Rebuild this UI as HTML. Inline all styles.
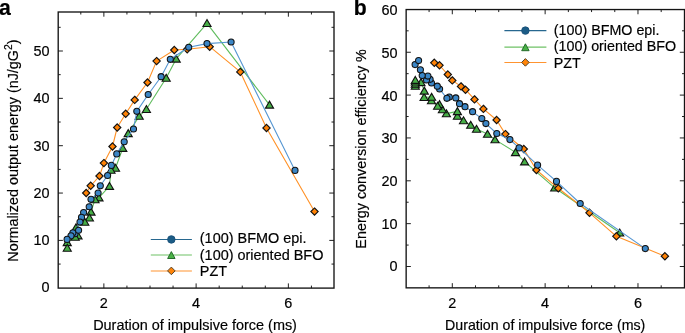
<!DOCTYPE html>
<html lang="en"><head><meta charset="utf-8"><title>Figure</title>
<style>html,body{margin:0;padding:0;background:#fff;}body{width:685px;height:333px;overflow:hidden;}svg{display:block;font-family:"Liberation Sans", sans-serif;fill:#000000;}text{stroke:#000;stroke-width:0.18px;paint-order:stroke fill;}</style></head><body>
<svg width="685" height="333" viewBox="0 0 685 333" role="img" aria-label="Two line charts comparing BFMO, BFO and PZT">
<rect width="685" height="333" fill="#ffffff"/>
<g id="panel-a">
<path d="M67.25 248.00 L67.25 242.40 L75.20 237.00 L78.00 235.70 L76.00 227.60 L84.80 222.00 L89.40 217.80 L91.00 211.90 L95.00 199.50 L99.00 197.70 L109.50 186.20 L111.00 170.00 L115.50 168.00 L122.80 148.20 L128.20 133.40 L139.20 116.10 L146.40 109.30 L166.20 78.00 L176.20 58.90 L207.00 23.30 L269.50 104.90" fill="none" stroke="#60bc5e" stroke-width="1.1" stroke-linejoin="round"/>
<path d="M269.50 101.15 L273.55 108.10 L265.45 108.10 Z" fill="#46ae46" stroke="#111111" stroke-width="1.1" stroke-linejoin="miter"/>
<path d="M207.00 19.55 L211.05 26.50 L202.95 26.50 Z" fill="#46ae46" stroke="#111111" stroke-width="1.1" stroke-linejoin="miter"/>
<path d="M176.20 55.15 L180.25 62.10 L172.15 62.10 Z" fill="#46ae46" stroke="#111111" stroke-width="1.1" stroke-linejoin="miter"/>
<path d="M166.20 74.25 L170.25 81.20 L162.15 81.20 Z" fill="#46ae46" stroke="#111111" stroke-width="1.1" stroke-linejoin="miter"/>
<path d="M146.40 105.55 L150.45 112.50 L142.35 112.50 Z" fill="#46ae46" stroke="#111111" stroke-width="1.1" stroke-linejoin="miter"/>
<path d="M139.20 112.35 L143.25 119.30 L135.15 119.30 Z" fill="#46ae46" stroke="#111111" stroke-width="1.1" stroke-linejoin="miter"/>
<path d="M128.20 129.65 L132.25 136.60 L124.15 136.60 Z" fill="#46ae46" stroke="#111111" stroke-width="1.1" stroke-linejoin="miter"/>
<path d="M122.80 144.45 L126.85 151.40 L118.75 151.40 Z" fill="#46ae46" stroke="#111111" stroke-width="1.1" stroke-linejoin="miter"/>
<path d="M115.50 164.25 L119.55 171.20 L111.45 171.20 Z" fill="#46ae46" stroke="#111111" stroke-width="1.1" stroke-linejoin="miter"/>
<path d="M111.00 166.25 L115.05 173.20 L106.95 173.20 Z" fill="#46ae46" stroke="#111111" stroke-width="1.1" stroke-linejoin="miter"/>
<path d="M109.50 182.45 L113.55 189.40 L105.45 189.40 Z" fill="#46ae46" stroke="#111111" stroke-width="1.1" stroke-linejoin="miter"/>
<path d="M99.00 193.95 L103.05 200.90 L94.95 200.90 Z" fill="#46ae46" stroke="#111111" stroke-width="1.1" stroke-linejoin="miter"/>
<path d="M95.00 195.75 L99.05 202.70 L90.95 202.70 Z" fill="#46ae46" stroke="#111111" stroke-width="1.1" stroke-linejoin="miter"/>
<path d="M91.00 208.15 L95.05 215.10 L86.95 215.10 Z" fill="#46ae46" stroke="#111111" stroke-width="1.1" stroke-linejoin="miter"/>
<path d="M89.40 214.05 L93.45 221.00 L85.35 221.00 Z" fill="#46ae46" stroke="#111111" stroke-width="1.1" stroke-linejoin="miter"/>
<path d="M84.80 218.25 L88.85 225.20 L80.75 225.20 Z" fill="#46ae46" stroke="#111111" stroke-width="1.1" stroke-linejoin="miter"/>
<path d="M76.00 223.85 L80.05 230.80 L71.95 230.80 Z" fill="#46ae46" stroke="#111111" stroke-width="1.1" stroke-linejoin="miter"/>
<path d="M78.00 231.95 L82.05 238.90 L73.95 238.90 Z" fill="#46ae46" stroke="#111111" stroke-width="1.1" stroke-linejoin="miter"/>
<path d="M75.20 233.25 L79.25 240.20 L71.15 240.20 Z" fill="#46ae46" stroke="#111111" stroke-width="1.1" stroke-linejoin="miter"/>
<path d="M67.25 238.65 L71.30 245.60 L63.20 245.60 Z" fill="#46ae46" stroke="#111111" stroke-width="1.1" stroke-linejoin="miter"/>
<path d="M67.25 244.25 L71.30 251.20 L63.20 251.20 Z" fill="#46ae46" stroke="#111111" stroke-width="1.1" stroke-linejoin="miter"/>
<path d="M86.20 193.00 L90.70 185.80 L99.50 176.00 L103.90 163.10 L112.50 146.50 L117.20 127.50 L125.70 113.80 L134.70 99.90 L147.50 82.50 L156.60 61.10 L174.30 50.00 L187.20 49.30 L209.70 46.70 L240.30 71.90 L266.50 128.00 L314.50 211.60" fill="none" stroke="#ff9126" stroke-width="1.1" stroke-linejoin="round"/>
<path d="M314.50 207.95 L318.15 211.60 L314.50 215.25 L310.85 211.60 Z" fill="#ff8205" stroke="#111111" stroke-width="1.15" stroke-linejoin="miter"/>
<path d="M266.50 124.35 L270.15 128.00 L266.50 131.65 L262.85 128.00 Z" fill="#ff8205" stroke="#111111" stroke-width="1.15" stroke-linejoin="miter"/>
<path d="M240.30 68.25 L243.95 71.90 L240.30 75.55 L236.65 71.90 Z" fill="#ff8205" stroke="#111111" stroke-width="1.15" stroke-linejoin="miter"/>
<path d="M209.70 43.05 L213.35 46.70 L209.70 50.35 L206.05 46.70 Z" fill="#ff8205" stroke="#111111" stroke-width="1.15" stroke-linejoin="miter"/>
<path d="M187.20 45.65 L190.85 49.30 L187.20 52.95 L183.55 49.30 Z" fill="#ff8205" stroke="#111111" stroke-width="1.15" stroke-linejoin="miter"/>
<path d="M174.30 46.35 L177.95 50.00 L174.30 53.65 L170.65 50.00 Z" fill="#ff8205" stroke="#111111" stroke-width="1.15" stroke-linejoin="miter"/>
<path d="M156.60 57.45 L160.25 61.10 L156.60 64.75 L152.95 61.10 Z" fill="#ff8205" stroke="#111111" stroke-width="1.15" stroke-linejoin="miter"/>
<path d="M147.50 78.85 L151.15 82.50 L147.50 86.15 L143.85 82.50 Z" fill="#ff8205" stroke="#111111" stroke-width="1.15" stroke-linejoin="miter"/>
<path d="M134.70 96.25 L138.35 99.90 L134.70 103.55 L131.05 99.90 Z" fill="#ff8205" stroke="#111111" stroke-width="1.15" stroke-linejoin="miter"/>
<path d="M125.70 110.15 L129.35 113.80 L125.70 117.45 L122.05 113.80 Z" fill="#ff8205" stroke="#111111" stroke-width="1.15" stroke-linejoin="miter"/>
<path d="M117.20 123.85 L120.85 127.50 L117.20 131.15 L113.55 127.50 Z" fill="#ff8205" stroke="#111111" stroke-width="1.15" stroke-linejoin="miter"/>
<path d="M112.50 142.85 L116.15 146.50 L112.50 150.15 L108.85 146.50 Z" fill="#ff8205" stroke="#111111" stroke-width="1.15" stroke-linejoin="miter"/>
<path d="M103.90 159.45 L107.55 163.10 L103.90 166.75 L100.25 163.10 Z" fill="#ff8205" stroke="#111111" stroke-width="1.15" stroke-linejoin="miter"/>
<path d="M99.50 172.35 L103.15 176.00 L99.50 179.65 L95.85 176.00 Z" fill="#ff8205" stroke="#111111" stroke-width="1.15" stroke-linejoin="miter"/>
<path d="M90.70 182.15 L94.35 185.80 L90.70 189.45 L87.05 185.80 Z" fill="#ff8205" stroke="#111111" stroke-width="1.15" stroke-linejoin="miter"/>
<path d="M86.20 189.35 L89.85 193.00 L86.20 196.65 L82.55 193.00 Z" fill="#ff8205" stroke="#111111" stroke-width="1.15" stroke-linejoin="miter"/>
<path d="M67.10 239.40 L71.00 235.85 L78.60 230.20 L72.90 232.80 L75.00 233.70 L80.00 222.00 L81.50 217.40 L83.60 212.50 L89.20 206.70 L91.00 199.30 L98.10 193.00 L100.30 185.80 L107.60 175.50 L111.35 165.40 L116.75 153.90 L124.20 141.75 L133.50 129.00 L136.80 111.35 L148.20 94.50 L161.10 76.70 L170.30 59.30 L188.70 47.20 L207.00 43.60 L231.10 42.00 L295.00 170.40" fill="none" stroke="#5596d2" stroke-width="1.1" stroke-linejoin="round"/>
<circle cx="295.00" cy="170.40" r="3.05" fill="#3b86c6" stroke="#111111" stroke-width="1.05"/>
<circle cx="231.10" cy="42.00" r="3.05" fill="#3b86c6" stroke="#111111" stroke-width="1.05"/>
<circle cx="207.00" cy="43.60" r="3.05" fill="#3b86c6" stroke="#111111" stroke-width="1.05"/>
<circle cx="188.70" cy="47.20" r="3.05" fill="#3b86c6" stroke="#111111" stroke-width="1.05"/>
<circle cx="170.30" cy="59.30" r="3.05" fill="#3b86c6" stroke="#111111" stroke-width="1.05"/>
<circle cx="161.10" cy="76.70" r="3.05" fill="#3b86c6" stroke="#111111" stroke-width="1.05"/>
<circle cx="148.20" cy="94.50" r="3.05" fill="#3b86c6" stroke="#111111" stroke-width="1.05"/>
<circle cx="136.80" cy="111.35" r="3.05" fill="#3b86c6" stroke="#111111" stroke-width="1.05"/>
<circle cx="133.50" cy="129.00" r="3.05" fill="#3b86c6" stroke="#111111" stroke-width="1.05"/>
<circle cx="124.20" cy="141.75" r="3.05" fill="#3b86c6" stroke="#111111" stroke-width="1.05"/>
<circle cx="116.75" cy="153.90" r="3.05" fill="#3b86c6" stroke="#111111" stroke-width="1.05"/>
<circle cx="111.35" cy="165.40" r="3.05" fill="#3b86c6" stroke="#111111" stroke-width="1.05"/>
<circle cx="107.60" cy="175.50" r="3.05" fill="#3b86c6" stroke="#111111" stroke-width="1.05"/>
<circle cx="100.30" cy="185.80" r="3.05" fill="#3b86c6" stroke="#111111" stroke-width="1.05"/>
<circle cx="98.10" cy="193.00" r="3.05" fill="#3b86c6" stroke="#111111" stroke-width="1.05"/>
<circle cx="91.00" cy="199.30" r="3.05" fill="#3b86c6" stroke="#111111" stroke-width="1.05"/>
<circle cx="89.20" cy="206.70" r="3.05" fill="#3b86c6" stroke="#111111" stroke-width="1.05"/>
<circle cx="83.60" cy="212.50" r="3.05" fill="#3b86c6" stroke="#111111" stroke-width="1.05"/>
<circle cx="81.50" cy="217.40" r="3.05" fill="#3b86c6" stroke="#111111" stroke-width="1.05"/>
<circle cx="80.00" cy="222.00" r="3.05" fill="#3b86c6" stroke="#111111" stroke-width="1.05"/>
<circle cx="75.00" cy="233.70" r="3.05" fill="#3b86c6" stroke="#111111" stroke-width="1.05"/>
<circle cx="72.90" cy="232.80" r="3.05" fill="#3b86c6" stroke="#111111" stroke-width="1.05"/>
<circle cx="78.60" cy="230.20" r="3.05" fill="#3b86c6" stroke="#111111" stroke-width="1.05"/>
<circle cx="71.00" cy="235.85" r="3.05" fill="#3b86c6" stroke="#111111" stroke-width="1.05"/>
<circle cx="67.10" cy="239.40" r="3.05" fill="#3b86c6" stroke="#111111" stroke-width="1.05"/>
<path d="M103.87 288.1 v-4.7 M103.87 12.0 v4.7 M196.12 288.1 v-4.7 M196.12 12.0 v4.7 M288.37 288.1 v-4.7 M288.37 12.0 v4.7 M80.81 288.1 v-2.5 M80.81 12.0 v2.5 M126.93 288.1 v-2.5 M126.93 12.0 v2.5 M150.00 288.1 v-2.5 M150.00 12.0 v2.5 M173.06 288.1 v-2.5 M173.06 12.0 v2.5 M219.18 288.1 v-2.5 M219.18 12.0 v2.5 M242.25 288.1 v-2.5 M242.25 12.0 v2.5 M265.31 288.1 v-2.5 M265.31 12.0 v2.5 M311.43 288.1 v-2.5 M311.43 12.0 v2.5 M58.2 240.40 h4.7 M334.0 240.40 h-4.7 M58.2 193.05 h4.7 M334.0 193.05 h-4.7 M58.2 145.70 h4.7 M334.0 145.70 h-4.7 M58.2 98.35 h4.7 M334.0 98.35 h-4.7 M58.2 51.00 h4.7 M334.0 51.00 h-4.7 M58.2 264.07 h2.5 M334.0 264.07 h-2.5 M58.2 216.72 h2.5 M334.0 216.72 h-2.5 M58.2 169.38 h2.5 M334.0 169.38 h-2.5 M58.2 122.02 h2.5 M334.0 122.02 h-2.5 M58.2 74.67 h2.5 M334.0 74.67 h-2.5 M58.2 27.32 h2.5 M334.0 27.32 h-2.5" fill="none" stroke="#141414" stroke-width="0.95"/>
<rect x="58.2" y="12.0" width="275.8" height="276.1" fill="none" stroke="#141414" stroke-width="1.35"/>
<text x="49.60" y="291.75" font-size="14.45" font-weight="normal" text-anchor="end" >0</text>
<text x="49.60" y="245.40" font-size="14.45" font-weight="normal" text-anchor="end" >10</text>
<text x="49.60" y="198.05" font-size="14.45" font-weight="normal" text-anchor="end" >20</text>
<text x="49.60" y="150.70" font-size="14.45" font-weight="normal" text-anchor="end" >30</text>
<text x="49.60" y="103.35" font-size="14.45" font-weight="normal" text-anchor="end" >40</text>
<text x="49.60" y="56.00" font-size="14.45" font-weight="normal" text-anchor="end" >50</text>
<text x="103.87" y="307.70" font-size="14.45" font-weight="normal" text-anchor="middle" >2</text>
<text x="196.12" y="307.70" font-size="14.45" font-weight="normal" text-anchor="middle" >4</text>
<text x="288.37" y="307.70" font-size="14.45" font-weight="normal" text-anchor="middle" >6</text>
<text x="195.05" y="329.60" font-size="14.45" font-weight="normal" text-anchor="middle" >Duration of impulsive force (ms)</text>
<text transform="translate(18.4 150.55) rotate(-90)" font-size="14.38" text-anchor="middle">Normalized output energy (nJ/gG<tspan font-size="10.4" dy="-6.3">2</tspan><tspan dy="6.3">)</tspan></text>
<path d="M150.8 239.45 H191.9" stroke="#27678f" stroke-width="1.05" fill="none"/>
<circle cx="171.35" cy="239.45" r="3.75" fill="#1b5c86" stroke="#1a5078" stroke-width="0.9"/>
<path d="M150.8 254.9 H191.9" stroke="#6fc266" stroke-width="1.05" fill="none"/>
<path d="M171.35 251.60 L175.05 258.50 L167.65 258.50 Z" fill="#49b346" stroke="#256b2b" stroke-width="1.0" stroke-linejoin="miter"/>
<path d="M150.8 270.9 H191.9" stroke="#ff9430" stroke-width="1.05" fill="none"/>
<path d="M171.35 267.10 L175.15 270.90 L171.35 274.70 L167.55 270.90 Z" fill="#ff8408" stroke="#54452f" stroke-width="1.0" stroke-linejoin="miter"/>
<text x="199.80" y="243.30" font-size="14.45" font-weight="normal" text-anchor="start" >(100) BFMO epi.</text>
<text x="199.80" y="259.80" font-size="14.45" font-weight="normal" text-anchor="start" >(100) oriented BFO</text>
<text x="199.80" y="275.70" font-size="14.45" font-weight="normal" text-anchor="start" >PZT</text>
<text x="-1.10" y="15.00" font-size="21.2" font-weight="bold" text-anchor="start" >a</text>
</g>
<g id="panel-b">
<path d="M415.30 80.20 L415.30 81.80 L415.30 83.90 L415.30 86.00 L421.00 82.40 L424.30 90.90 L424.10 97.30 L431.60 97.10 L431.50 100.50 L437.60 106.00 L439.50 104.40 L442.40 109.50 L446.40 113.60 L457.40 111.40 L457.40 116.10 L463.50 120.50 L470.70 125.10 L476.50 129.00 L487.50 134.10 L495.00 139.60 L515.50 152.40 L524.60 161.70 L554.70 187.80 L619.70 232.80" fill="none" stroke="#60bc5e" stroke-width="1.1" stroke-linejoin="round"/>
<path d="M619.70 229.05 L623.75 236.00 L615.65 236.00 Z" fill="#46ae46" stroke="#111111" stroke-width="1.1" stroke-linejoin="miter"/>
<path d="M554.70 184.05 L558.75 191.00 L550.65 191.00 Z" fill="#46ae46" stroke="#111111" stroke-width="1.1" stroke-linejoin="miter"/>
<path d="M524.60 157.95 L528.65 164.90 L520.55 164.90 Z" fill="#46ae46" stroke="#111111" stroke-width="1.1" stroke-linejoin="miter"/>
<path d="M515.50 148.65 L519.55 155.60 L511.45 155.60 Z" fill="#46ae46" stroke="#111111" stroke-width="1.1" stroke-linejoin="miter"/>
<path d="M495.00 135.85 L499.05 142.80 L490.95 142.80 Z" fill="#46ae46" stroke="#111111" stroke-width="1.1" stroke-linejoin="miter"/>
<path d="M487.50 130.35 L491.55 137.30 L483.45 137.30 Z" fill="#46ae46" stroke="#111111" stroke-width="1.1" stroke-linejoin="miter"/>
<path d="M476.50 125.25 L480.55 132.20 L472.45 132.20 Z" fill="#46ae46" stroke="#111111" stroke-width="1.1" stroke-linejoin="miter"/>
<path d="M470.70 121.35 L474.75 128.30 L466.65 128.30 Z" fill="#46ae46" stroke="#111111" stroke-width="1.1" stroke-linejoin="miter"/>
<path d="M463.50 116.75 L467.55 123.70 L459.45 123.70 Z" fill="#46ae46" stroke="#111111" stroke-width="1.1" stroke-linejoin="miter"/>
<path d="M457.40 112.35 L461.45 119.30 L453.35 119.30 Z" fill="#46ae46" stroke="#111111" stroke-width="1.1" stroke-linejoin="miter"/>
<path d="M457.40 107.65 L461.45 114.60 L453.35 114.60 Z" fill="#46ae46" stroke="#111111" stroke-width="1.1" stroke-linejoin="miter"/>
<path d="M446.40 109.85 L450.45 116.80 L442.35 116.80 Z" fill="#46ae46" stroke="#111111" stroke-width="1.1" stroke-linejoin="miter"/>
<path d="M442.40 105.75 L446.45 112.70 L438.35 112.70 Z" fill="#46ae46" stroke="#111111" stroke-width="1.1" stroke-linejoin="miter"/>
<path d="M439.50 100.65 L443.55 107.60 L435.45 107.60 Z" fill="#46ae46" stroke="#111111" stroke-width="1.1" stroke-linejoin="miter"/>
<path d="M437.60 102.25 L441.65 109.20 L433.55 109.20 Z" fill="#46ae46" stroke="#111111" stroke-width="1.1" stroke-linejoin="miter"/>
<path d="M431.50 96.75 L435.55 103.70 L427.45 103.70 Z" fill="#46ae46" stroke="#111111" stroke-width="1.1" stroke-linejoin="miter"/>
<path d="M431.60 93.35 L435.65 100.30 L427.55 100.30 Z" fill="#46ae46" stroke="#111111" stroke-width="1.1" stroke-linejoin="miter"/>
<path d="M424.10 93.55 L428.15 100.50 L420.05 100.50 Z" fill="#46ae46" stroke="#111111" stroke-width="1.1" stroke-linejoin="miter"/>
<path d="M424.30 87.15 L428.35 94.10 L420.25 94.10 Z" fill="#46ae46" stroke="#111111" stroke-width="1.1" stroke-linejoin="miter"/>
<path d="M421.00 78.65 L425.05 85.60 L416.95 85.60 Z" fill="#46ae46" stroke="#111111" stroke-width="1.1" stroke-linejoin="miter"/>
<path d="M415.30 82.25 L419.35 89.20 L411.25 89.20 Z" fill="#46ae46" stroke="#111111" stroke-width="1.1" stroke-linejoin="miter"/>
<path d="M415.30 80.15 L419.35 87.10 L411.25 87.10 Z" fill="#46ae46" stroke="#111111" stroke-width="1.1" stroke-linejoin="miter"/>
<path d="M415.30 78.05 L419.35 85.00 L411.25 85.00 Z" fill="#46ae46" stroke="#111111" stroke-width="1.1" stroke-linejoin="miter"/>
<path d="M415.30 76.45 L419.35 83.40 L411.25 83.40 Z" fill="#46ae46" stroke="#111111" stroke-width="1.1" stroke-linejoin="miter"/>
<path d="M434.30 62.80 L439.50 65.30 L447.80 74.50 L452.30 80.40 L461.00 86.40 L465.50 89.70 L474.50 99.40 L483.40 108.90 L496.60 120.00 L505.40 134.10 L523.80 149.00 L536.40 170.00 L558.30 188.30 L589.50 212.80 L616.40 236.30 L664.90 256.20" fill="none" stroke="#ff9126" stroke-width="1.1" stroke-linejoin="round"/>
<path d="M664.90 252.55 L668.55 256.20 L664.90 259.85 L661.25 256.20 Z" fill="#ff8205" stroke="#111111" stroke-width="1.15" stroke-linejoin="miter"/>
<path d="M616.40 232.65 L620.05 236.30 L616.40 239.95 L612.75 236.30 Z" fill="#ff8205" stroke="#111111" stroke-width="1.15" stroke-linejoin="miter"/>
<path d="M589.50 209.15 L593.15 212.80 L589.50 216.45 L585.85 212.80 Z" fill="#ff8205" stroke="#111111" stroke-width="1.15" stroke-linejoin="miter"/>
<path d="M558.30 184.65 L561.95 188.30 L558.30 191.95 L554.65 188.30 Z" fill="#ff8205" stroke="#111111" stroke-width="1.15" stroke-linejoin="miter"/>
<path d="M536.40 166.35 L540.05 170.00 L536.40 173.65 L532.75 170.00 Z" fill="#ff8205" stroke="#111111" stroke-width="1.15" stroke-linejoin="miter"/>
<path d="M523.80 145.35 L527.45 149.00 L523.80 152.65 L520.15 149.00 Z" fill="#ff8205" stroke="#111111" stroke-width="1.15" stroke-linejoin="miter"/>
<path d="M505.40 130.45 L509.05 134.10 L505.40 137.75 L501.75 134.10 Z" fill="#ff8205" stroke="#111111" stroke-width="1.15" stroke-linejoin="miter"/>
<path d="M496.60 116.35 L500.25 120.00 L496.60 123.65 L492.95 120.00 Z" fill="#ff8205" stroke="#111111" stroke-width="1.15" stroke-linejoin="miter"/>
<path d="M483.40 105.25 L487.05 108.90 L483.40 112.55 L479.75 108.90 Z" fill="#ff8205" stroke="#111111" stroke-width="1.15" stroke-linejoin="miter"/>
<path d="M474.50 95.75 L478.15 99.40 L474.50 103.05 L470.85 99.40 Z" fill="#ff8205" stroke="#111111" stroke-width="1.15" stroke-linejoin="miter"/>
<path d="M465.50 86.05 L469.15 89.70 L465.50 93.35 L461.85 89.70 Z" fill="#ff8205" stroke="#111111" stroke-width="1.15" stroke-linejoin="miter"/>
<path d="M461.00 82.75 L464.65 86.40 L461.00 90.05 L457.35 86.40 Z" fill="#ff8205" stroke="#111111" stroke-width="1.15" stroke-linejoin="miter"/>
<path d="M452.30 76.75 L455.95 80.40 L452.30 84.05 L448.65 80.40 Z" fill="#ff8205" stroke="#111111" stroke-width="1.15" stroke-linejoin="miter"/>
<path d="M447.80 70.85 L451.45 74.50 L447.80 78.15 L444.15 74.50 Z" fill="#ff8205" stroke="#111111" stroke-width="1.15" stroke-linejoin="miter"/>
<path d="M439.50 61.65 L443.15 65.30 L439.50 68.95 L435.85 65.30 Z" fill="#ff8205" stroke="#111111" stroke-width="1.15" stroke-linejoin="miter"/>
<path d="M434.30 59.15 L437.95 62.80 L434.30 66.45 L430.65 62.80 Z" fill="#ff8205" stroke="#111111" stroke-width="1.15" stroke-linejoin="miter"/>
<path d="M418.60 60.60 L415.10 64.60 L420.40 69.80 L422.20 75.60 L427.90 76.10 L426.50 80.00 L430.10 79.30 L431.50 83.00 L437.30 86.20 L439.60 89.00 L446.90 98.30 L449.30 97.10 L455.80 97.90 L459.50 103.70 L465.00 106.70 L472.60 111.70 L481.80 118.60 L485.90 123.60 L496.80 133.50 L509.90 139.60 L519.10 147.90 L537.60 165.10 L556.50 181.40 L580.20 203.50 L645.30 248.60" fill="none" stroke="#5596d2" stroke-width="1.1" stroke-linejoin="round"/>
<circle cx="645.30" cy="248.60" r="3.05" fill="#3b86c6" stroke="#111111" stroke-width="1.05"/>
<circle cx="580.20" cy="203.50" r="3.05" fill="#3b86c6" stroke="#111111" stroke-width="1.05"/>
<circle cx="556.50" cy="181.40" r="3.05" fill="#3b86c6" stroke="#111111" stroke-width="1.05"/>
<circle cx="537.60" cy="165.10" r="3.05" fill="#3b86c6" stroke="#111111" stroke-width="1.05"/>
<circle cx="519.10" cy="147.90" r="3.05" fill="#3b86c6" stroke="#111111" stroke-width="1.05"/>
<circle cx="509.90" cy="139.60" r="3.05" fill="#3b86c6" stroke="#111111" stroke-width="1.05"/>
<circle cx="496.80" cy="133.50" r="3.05" fill="#3b86c6" stroke="#111111" stroke-width="1.05"/>
<circle cx="485.90" cy="123.60" r="3.05" fill="#3b86c6" stroke="#111111" stroke-width="1.05"/>
<circle cx="481.80" cy="118.60" r="3.05" fill="#3b86c6" stroke="#111111" stroke-width="1.05"/>
<circle cx="472.60" cy="111.70" r="3.05" fill="#3b86c6" stroke="#111111" stroke-width="1.05"/>
<circle cx="465.00" cy="106.70" r="3.05" fill="#3b86c6" stroke="#111111" stroke-width="1.05"/>
<circle cx="459.50" cy="103.70" r="3.05" fill="#3b86c6" stroke="#111111" stroke-width="1.05"/>
<circle cx="455.80" cy="97.90" r="3.05" fill="#3b86c6" stroke="#111111" stroke-width="1.05"/>
<circle cx="449.30" cy="97.10" r="3.05" fill="#3b86c6" stroke="#111111" stroke-width="1.05"/>
<circle cx="446.90" cy="98.30" r="3.05" fill="#3b86c6" stroke="#111111" stroke-width="1.05"/>
<circle cx="439.60" cy="89.00" r="3.05" fill="#3b86c6" stroke="#111111" stroke-width="1.05"/>
<circle cx="437.30" cy="86.20" r="3.05" fill="#3b86c6" stroke="#111111" stroke-width="1.05"/>
<circle cx="431.50" cy="83.00" r="3.05" fill="#3b86c6" stroke="#111111" stroke-width="1.05"/>
<circle cx="430.10" cy="79.30" r="3.05" fill="#3b86c6" stroke="#111111" stroke-width="1.05"/>
<circle cx="426.50" cy="80.00" r="3.05" fill="#3b86c6" stroke="#111111" stroke-width="1.05"/>
<circle cx="427.90" cy="76.10" r="3.05" fill="#3b86c6" stroke="#111111" stroke-width="1.05"/>
<circle cx="422.20" cy="75.60" r="3.05" fill="#3b86c6" stroke="#111111" stroke-width="1.05"/>
<circle cx="420.40" cy="69.80" r="3.05" fill="#3b86c6" stroke="#111111" stroke-width="1.05"/>
<circle cx="415.10" cy="64.60" r="3.05" fill="#3b86c6" stroke="#111111" stroke-width="1.05"/>
<circle cx="418.60" cy="60.60" r="3.05" fill="#3b86c6" stroke="#111111" stroke-width="1.05"/>
<path d="M452.30 287.85 v-4.7 M452.30 9.55 v4.7 M545.14 287.85 v-4.7 M545.14 9.55 v4.7 M637.98 287.85 v-4.7 M637.98 9.55 v4.7 M429.09 287.85 v-2.5 M429.09 9.55 v2.5 M475.51 287.85 v-2.5 M475.51 9.55 v2.5 M498.72 287.85 v-2.5 M498.72 9.55 v2.5 M521.93 287.85 v-2.5 M521.93 9.55 v2.5 M568.35 287.85 v-2.5 M568.35 9.55 v2.5 M591.56 287.85 v-2.5 M591.56 9.55 v2.5 M614.77 287.85 v-2.5 M614.77 9.55 v2.5 M661.19 287.85 v-2.5 M661.19 9.55 v2.5 M406.15 266.50 h4.7 M684.5 266.50 h-4.7 M406.15 223.65 h4.7 M684.5 223.65 h-4.7 M406.15 180.80 h4.7 M684.5 180.80 h-4.7 M406.15 137.95 h4.7 M684.5 137.95 h-4.7 M406.15 95.10 h4.7 M684.5 95.10 h-4.7 M406.15 52.25 h4.7 M684.5 52.25 h-4.7 M406.15 245.07 h2.5 M684.5 245.07 h-2.5 M406.15 202.22 h2.5 M684.5 202.22 h-2.5 M406.15 159.38 h2.5 M684.5 159.38 h-2.5 M406.15 116.53 h2.5 M684.5 116.53 h-2.5 M406.15 73.67 h2.5 M684.5 73.67 h-2.5 M406.15 30.82 h2.5 M684.5 30.82 h-2.5" fill="none" stroke="#141414" stroke-width="0.95"/>
<rect x="406.15" y="9.55" width="278.35" height="278.3" fill="none" stroke="#141414" stroke-width="1.35"/>
<text x="397.50" y="270.80" font-size="14.45" font-weight="normal" text-anchor="end" >0</text>
<text x="397.50" y="228.60" font-size="14.45" font-weight="normal" text-anchor="end" >10</text>
<text x="397.50" y="185.60" font-size="14.45" font-weight="normal" text-anchor="end" >20</text>
<text x="397.50" y="143.10" font-size="14.45" font-weight="normal" text-anchor="end" >30</text>
<text x="397.50" y="100.60" font-size="14.45" font-weight="normal" text-anchor="end" >40</text>
<text x="397.50" y="57.50" font-size="14.45" font-weight="normal" text-anchor="end" >50</text>
<text x="397.50" y="15.00" font-size="14.45" font-weight="normal" text-anchor="end" >60</text>
<text x="452.30" y="307.70" font-size="14.45" font-weight="normal" text-anchor="middle" >2</text>
<text x="545.14" y="307.70" font-size="14.45" font-weight="normal" text-anchor="middle" >4</text>
<text x="637.98" y="307.70" font-size="14.45" font-weight="normal" text-anchor="middle" >6</text>
<text x="545.15" y="329.60" font-size="14.2" font-weight="normal" text-anchor="middle" >Duration of impulsive force (ms)</text>
<text transform="translate(366.4 148.9) rotate(-90)" font-size="14.38" text-anchor="middle">Energy conversion efficiency %</text>
<path d="M504.4 30.6 H546.4" stroke="#27678f" stroke-width="1.05" fill="none"/>
<circle cx="525.40" cy="30.60" r="3.75" fill="#1b5c86" stroke="#1a5078" stroke-width="0.9"/>
<path d="M504.4 47.1 H546.4" stroke="#6fc266" stroke-width="1.05" fill="none"/>
<path d="M525.40 43.80 L529.10 50.70 L521.70 50.70 Z" fill="#49b346" stroke="#256b2b" stroke-width="1.0" stroke-linejoin="miter"/>
<path d="M504.4 62.4 H546.4" stroke="#ff9430" stroke-width="1.05" fill="none"/>
<path d="M525.40 58.60 L529.20 62.40 L525.40 66.20 L521.60 62.40 Z" fill="#ff8408" stroke="#54452f" stroke-width="1.0" stroke-linejoin="miter"/>
<text x="553.80" y="35.30" font-size="14.3" font-weight="normal" text-anchor="start" >(100) BFMO epi.</text>
<text x="553.80" y="51.30" font-size="14.3" font-weight="normal" text-anchor="start" >(100) oriented BFO</text>
<text x="553.80" y="67.50" font-size="14.3" font-weight="normal" text-anchor="start" >PZT</text>
<text x="353.70" y="15.00" font-size="21.2" font-weight="bold" text-anchor="start" >b</text>
</g>
</svg></body></html>
